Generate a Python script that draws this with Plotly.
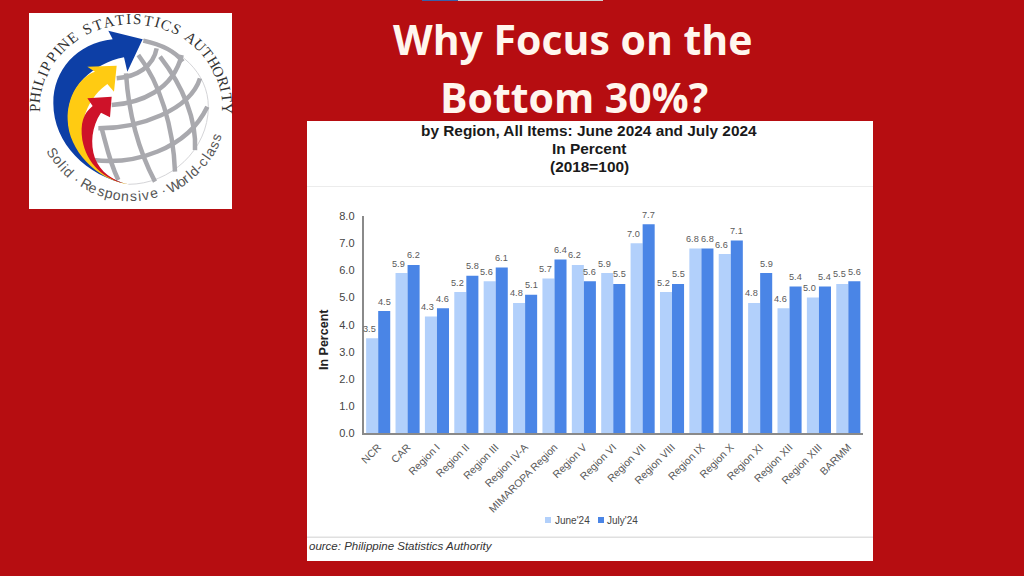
import math
import re
import plotly.graph_objects as go

# ---- data ----
regions = ["NCR", "CAR", "Region I", "Region II", "Region III", "Region IV-A", "MIMAROPA Region",
           "Region V", "Region VI", "Region VII", "Region VIII", "Region IX", "Region X",
           "Region XI", "Region XII", "Region XIII", "BARMM"]
june_24 = [3.5, 5.9, 4.3, 5.2, 5.6, 4.8, 5.7, 6.2, 5.9, 7.0, 5.2, 6.8, 6.6, 4.8, 4.6, 5.0, 5.5]
july_24 = [4.5, 6.2, 4.6, 5.8, 6.1, 5.1, 6.4, 5.6, 5.5, 7.7, 5.5, 6.8, 7.1, 5.9, 5.4, 5.4, 5.6]
series_names = ["June'24", "July'24"]
y_ticks = [0, 1, 2, 3, 4, 5, 6, 7, 8]
headline = ["Why Focus on the", "Bottom 30%?"]
chart_title = ["by Region, All Items: June 2024 and July 2024", "In Percent", "(2018=100)"]
source_text = "ource: Philippine Statistics Authority"
logo_top = "PHILIPPINE STATISTICS AUTHORITY"
logo_bottom = "Solid · Responsive · World-class"

# ---- style ----
W, H = 1024, 576
RED = "#B60D11"
JUNE = "#B2D0FB"
JULY = "#4A85E6"
SANS = "Liberation Sans, Arial, sans-serif"
GREY_TXT = "#5a5a5a"


def px(x):
    return x / W


def py(y):
    return 1 - y / H


def rect(x0, y0, x1, y1, color):
    return dict(type="rect", xref="paper", yref="paper", x0=px(x0), x1=px(x1), y0=py(y0), y1=py(y1),
                fillcolor=color, line_width=0, layer="below")


def note(x, y, text, size, color, font=SANS, angle=0, xanchor="center"):
    return dict(xref="paper", yref="paper", x=px(x), y=py(y), text=text, showarrow=False,
                xanchor=xanchor, yanchor="middle", textangle=angle,
                font=dict(family=font, size=size, color=color))


def logo_path(d):
    nums = iter(re.findall(r"[A-Za-z]|-?\d+\.?\d*", d))
    out = []
    is_x = True
    for tok in nums:
        if tok.isalpha():
            out.append(tok)
            is_x = True
        else:
            v = float(tok) / 3
            out.append(f"{px(v):.5f}," if is_x else f"{py(v):.5f} ")
            is_x = not is_x
    return "".join(out)


def logo_fill(d, color):
    return dict(type="path", xref="paper", yref="paper", path=logo_path(d), fillcolor=color,
                line_width=0, layer="below")


def logo_line(d, color, width):
    return dict(type="path", xref="paper", yref="paper", path=logo_path(d), line=dict(color=color, width=width),
                layer="below")


shapes = [
    rect(422, 0, 458, 1, "#3A5FA8"),
    rect(458, 0, 603, 1, "#CFCFCF"),
    rect(29, 13, 232, 209, "#FFFFFF"),
    rect(307, 121, 873, 561, "#FFFFFF"),
    rect(307, 186, 873, 187, "#ECECEC"),
    rect(307, 536.5, 873, 538, "#E0E0E0"),
    rect(545, 517, 551, 523, JUNE),
    rect(598, 517, 604, 523, JULY),
]

GLOBE = "#A9A9AE"
shapes.append(logo_line("M428,118 C540,140 625,220 625,320 C625,450 510,553 385,553", "#D5D5D8", 1))
for d in ["M350,235 C410,230 460,200 470,145",
          "M335,315 C420,310 520,270 545,165",
          "M295,385 C420,385 570,330 600,235",
          "M280,480 C400,495 560,450 622,320",
          "M430,122 C490,135 530,160 548,185",
          "M378,220 C385,330 410,440 465,545",
          "M415,165 C480,250 520,380 525,515",
          "M480,170 C550,260 590,360 585,450",
          "M305,385 C320,440 330,490 355,540"]:
    shapes.append(logo_line(d, GLOBE, 4.5))
shapes.append(logo_fill("M325,92 L428,118 L382,215 L372,172 C280,190 200,260 205,360 C208,450 290,530 385,553 "
                        "C260,530 160,430 160,310 C160,210 230,130 338,118 Z", "#0D3FA6"))
shapes.append(logo_fill("M262,200 L350,197 L342,275 L322,252 C270,290 240,350 250,420 C262,490 320,540 385,553 "
                        "C290,540 205,450 203,360 C200,290 240,230 285,215 Z", "#FFCB12"))
shapes.append(logo_fill("M262,295 L335,290 L330,352 L303,338 C275,380 270,430 285,475 C300,515 340,545 385,553 "
                        "C310,540 260,490 247,420 C240,370 250,340 278,318 Z", "#CE1229"))

annotations = [
    note(572, 39, f"<b>{headline[0]}</b>", 41, "#FFF6EE", "Open Sans"),
    note(573.5, 97, f"<b>{headline[1]}</b>", 41, "#FFF6EE", "Open Sans"),
    note(589, 130, f"<b>{chart_title[0]}</b>", 15.4, "#1a1a1a"),
    note(589, 148, f"<b>{chart_title[1]}</b>", 15.4, "#1a1a1a"),
    note(589, 166, f"<b>{chart_title[2]}</b>", 15.4, "#1a1a1a"),
    note(324, 340, "<b>In Percent</b>", 12.5, "#222222", angle=-90),
    note(307, 546, f"<i>{source_text}</i>", 11.5, "#333333", xanchor="left"),
    note(553, 520, series_names[0], 10, "#444444", xanchor="left"),
    note(605, 520, series_names[1], 10, "#444444", xanchor="left"),
]


def arc_text(text, start, end, size, font, color, rx, ry, cx, cy, top, wide=1.0):
    narrow = set("il·.-t ,rI")
    weights = [0.55 if c in narrow else wide for c in text]
    total = sum(weights) - 0.5 * (weights[0] + weights[-1])
    pos = 0.0
    for i, c in enumerate(text):
        if i:
            pos += 0.5 * (weights[i - 1] + weights[i])
        phi = start + (end - start) * pos / total
        r = math.radians(phi)
        if c != " ":
            angle = phi - 270 if top else phi - 90
            annotations.append(note(cx + rx * math.cos(r), cy + ry * math.sin(r), c, size, color, font, angle))


arc_text(logo_top, 180, 360, 15, "Liberation Serif", "#333333", 96, 89, 131, 108, True)
arc_text(logo_bottom, 149, 20, 14, SANS, "#555555", 91, 89, 131, 107, False)

# value labels sit on the bars through the data axes, nudged like the reference
for values, dx in [(june_24, -9), (july_24, 6)]:
    for region, v in zip(regions, values):
        annotations.append(dict(xref="x", yref="y", x=region, y=v, text=f"{v:.1f}", showarrow=False,
                                xanchor="center", yanchor="middle", xshift=dx, yshift=9.5,
                                font=dict(family=SANS, size=9.2, color=GREY_TXT)))

fig = go.Figure()
for name, values, color in [(series_names[0], june_24, JUNE), (series_names[1], july_24, JULY)]:
    fig.add_trace(go.Bar(x=regions, y=values, name=name, marker=dict(color=color, line_width=0), showlegend=False))

fig.update_layout(
    width=W, height=H, autosize=False,
    margin=dict(l=0, r=0, t=0, b=0, pad=0),
    paper_bgcolor=RED, plot_bgcolor="rgba(0,0,0,0)",
    barmode="group", bargap=0.18, bargroupgap=0,
    shapes=shapes, annotations=annotations,
    xaxis=dict(domain=[px(363.5), px(863)], type="category", range=[-0.5, len(regions) - 0.5], tickangle=-45,
               showgrid=False, ticks="", automargin=False, showline=True, linecolor="#8A8A8A", linewidth=1.5,
               ticklabelstandoff=2, tickfont=dict(family=SANS, size=10.5, color=GREY_TXT)),
    yaxis=dict(domain=[py(433.3), py(216)], range=[0, 8], tickvals=y_ticks, tickformat=".1f",
               automargin=False, showgrid=False, zeroline=False, ticks="", showline=True, linecolor="#8A8A8A",
               linewidth=1.5, ticklabelstandoff=5, tickfont=dict(family=SANS, size=11, color="#444444")),
)

fig.write_html("out.html", config={"displayModeBar": False},
               post_script="document.body.style.margin='0';document.body.style.overflow='hidden';")
